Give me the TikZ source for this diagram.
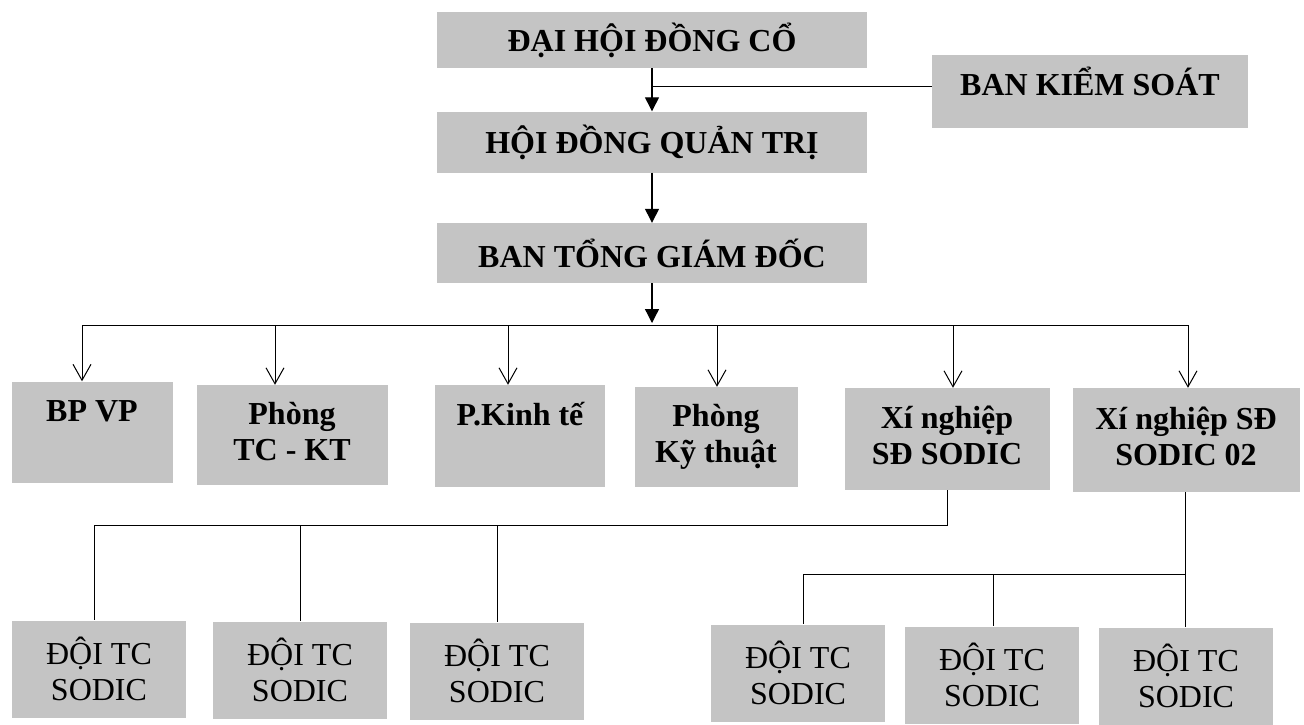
\documentclass[tikz,border=0pt]{standalone}
\usepackage{fontspec}
\setmainfont{Liberation Serif}
\usetikzlibrary{arrows.meta}
\tikzset{
  hop/.style={fill=black!23, inner sep=0pt, align=center, font=\bfseries\fontsize{32}{36}\selectfont},
  phong/.style={hop, text height=58pt, text depth=8pt},
  doi/.style={fill=black!23, inner sep=0pt, align=center, minimum width=174pt, minimum height=97pt, font=\fontsize{32}{36}\selectfont},
  tam/.style={-{Triangle[length=14pt,width=14pt]}, line width=1.3pt},
  mo/.style={-{Straight Barb[length=16pt,width=18pt]}, line width=1pt},
  noi/.style={line width=1pt}
}
\begin{document}
\begin{tikzpicture}[x=1pt,y=-1pt]
\useasboundingbox (0,0) rectangle (1304,724);
% cap tren
\node[hop, minimum width=430pt, minimum height=56pt] (dh) at (652,40) {ĐẠI HỘI ĐỒNG CỔ};
\node[hop, minimum width=316pt, minimum height=73pt, text height=22pt, text depth=14pt] (bks) at (1090,91) {BAN KIỂM SOÁT};
\node[hop, minimum width=430pt, minimum height=61pt] (hd) at (652,142) {HỘI ĐỒNG QUẢN TRỊ};
\node[hop, minimum width=430pt, minimum height=60pt] (tgd) at (652,253) {BAN TỔNG GIÁM ĐỐC};
\draw[tam] (dh) -- (hd);
\draw[noi] (dh.south |- 0,86) -- (bks.west |- 0,86);
\draw[tam] (hd) -- (tgd);
\draw[tam] (tgd) -- (652,323);
% phong ban
\node[phong, minimum width=161pt, minimum height=101pt] (bp) at (92,432) {BP VP\\~};
\node[phong, minimum width=191pt, minimum height=100pt] (tckt) at (292,435) {Phòng\\TC - KT};
\node[phong, minimum width=170pt, minimum height=102pt] (pkt) at (520,436) {P.Kinh tế\\~};
\node[phong, minimum width=163pt, minimum height=100pt] (kyt) at (716,437) {Phòng\\Kỹ thuật};
\node[phong, minimum width=205pt, minimum height=102pt] (xn) at (947,439) {Xí nghiệp\\SĐ SODIC};
\node[phong, minimum width=227pt, minimum height=104pt] (xn2) at (1186,440) {Xí nghiệp SĐ\\SODIC 02};
\draw[noi] (82,325) -- (1188,325);
\foreach \x/\n in {82/bp,275/tckt,508/pkt,717/kyt,953/xn,1188/xn2}
  \draw[mo] (\x,325) -- (\x,0 |- \n.north);
% doi thi cong
\node[doi] (d1) at (99,669) {ĐỘI TC\\SODIC};
\node[doi] (d2) at (300,670) {ĐỘI TC\\SODIC};
\node[doi] (d3) at (497,671) {ĐỘI TC\\SODIC};
\node[doi] (d4) at (798,673) {ĐỘI TC\\SODIC};
\node[doi] (d5) at (992,675) {ĐỘI TC\\SODIC};
\node[doi] (d6) at (1186,676) {ĐỘI TC\\SODIC};
\draw[noi] (947,0 |- xn.south) -- (947,525) -- (94,525);
\foreach \x/\n in {94/d1,300/d2,497/d3}
  \draw[noi] (\x,525) -- (\x,0 |- \n.north);
\draw[noi] (1185,0 |- xn2.south) -- (1185,0 |- d6.north);
\draw[noi] (1185,574) -- (803,574);
\foreach \x/\n in {803/d4,993/d5}
  \draw[noi] (\x,574) -- (\x,0 |- \n.north);
\end{tikzpicture}
\end{document}
